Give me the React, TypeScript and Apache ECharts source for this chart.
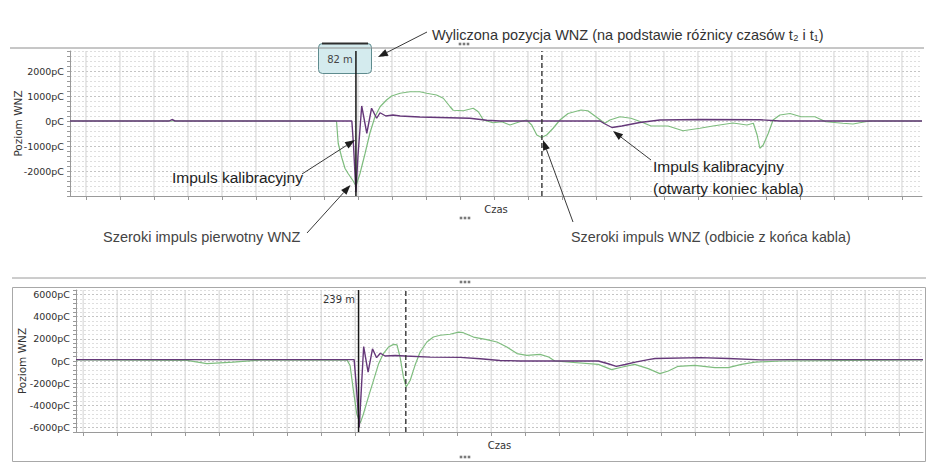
import React, { useEffect, useRef } from "react";
import * as echarts from "echarts";

// ---------- top chart (x: time divisions, y: pC) ----------
const topXMin = -0.47;
const topXMax = 24.59;
const topYMin = -3000;
const topYMax = 2800;
const topYStep = 200;
const topYLabels = [-2000, -1000, 0, 1000, 2000];
const topGridX = [0, 1, 2, 3, 4, 5, 6, 7, 8, 9, 10, 11, 12, 13, 14, 15, 16, 17, 18, 19, 20, 21, 22, 23, 24];
const topCursorSolid = 7.94;
const topCursorDashed = 13.41;
const topCursorText = "82 m";

const topPurpleX = [-0.47, 2.45, 2.53, 2.62, 7.82, 7.87, 7.94, 8.0, 8.11, 8.26, 8.4, 8.55, 8.65, 8.82, 9.03, 9.24, 9.82, 10.41, 11.29, 11.79, 12.18, 15.12, 15.24, 15.47, 15.76, 16.29, 16.88, 18.06, 19.82, 20.41, 24.59];
const topPurpleY = [0, 0, 60, 0, 0, -1000, -2850, -1400, 600, -490, 510, 110, 330, 200, 240, 200, 160, 140, 110, 30, 0, 0, -100, -260, -200, -60, 40, 60, 50, 0, 0];

const topGreenX = [-0.47, 7.32, 7.37, 7.42, 7.52, 7.62, 7.71, 7.86, 7.94, 8.06, 8.21, 8.35, 8.5, 8.65, 8.84, 8.99, 9.24, 9.53, 9.82, 10.02, 10.31, 10.51, 10.71, 10.8, 11.1, 11.39, 11.54, 11.69, 11.97, 12.23, 12.47, 12.76, 12.96, 13.11, 13.26, 13.4, 13.55, 13.74, 13.94, 14.18, 14.56, 14.76, 15.06, 15.26, 15.41, 15.71, 16.03, 16.32, 16.62, 17.12, 17.56, 18.06, 18.44, 19.03, 19.44, 19.63, 19.74, 19.82, 19.92, 20.07, 20.21, 20.41, 20.71, 21.03, 21.44, 21.76, 22.26, 22.56, 22.76, 23.06, 24.59];
const topGreenY = [0, 0, -30, -900, -1450, -1900, -2100, -2400, -2600, -2100, -1290, -490, 170, 570, 840, 1000, 1110, 1170, 1170, 1110, 1040, 910, 570, 430, 410, 510, 370, 40, -70, -30, -160, -30, 40, -160, -560, -660, -560, -290, 40, 300, 440, 410, 110, -90, 40, 170, 110, -30, -200, -200, -390, -290, -200, -80, -160, -90, -560, -1090, -960, -490, 40, 240, 300, 170, 170, -30, -90, -120, -70, 0, 0];

// ---------- bottom chart ----------
const botXMin = -0.21;
const botXMax = 24.7;
const botYMin = -6400;
const botYMax = 6400;
const botYStep = 400;
const botYLabels = [-6000, -4000, -2000, 0, 2000, 4000, 6000];
const botGridX = [0, 1, 2, 3, 4, 5, 6, 7, 8, 9, 10, 11, 12, 13, 14, 15, 16, 17, 18, 19, 20, 21, 22, 23, 24];
const botCursorSolid = 8.1;
const botCursorDashed = 9.49;
const botCursorText = "239 m";

const botPurpleX = [-0.21, 7.97, 8.04, 8.12, 8.25, 8.38, 8.51, 8.63, 8.74, 8.88, 9.18, 9.47, 10.21, 11.09, 11.68, 12.26, 12.85, 15.15, 15.44, 15.68, 15.94, 16.24, 16.62, 16.82, 18.15, 18.97, 19.94, 20.79, 24.7];
const botPurpleY = [120, 120, -2500, -6000, 1300, -1000, 1100, 300, 700, 450, 500, 450, 350, 330, 200, 50, 0, 0, -250, -480, -320, -100, 120, 220, 300, 220, 100, 120, 120];

const botGreenX = [-0.21, 3.05, 3.64, 4.41, 5.2, 7.76, 7.85, 7.95, 8.05, 8.15, 8.24, 8.39, 8.54, 8.69, 8.83, 8.98, 9.13, 9.23, 9.32, 9.42, 9.5, 9.62, 9.76, 9.91, 10.11, 10.3, 10.5, 10.79, 11.04, 11.18, 11.48, 11.87, 12.17, 12.46, 12.76, 13.05, 13.44, 13.69, 13.87, 15.15, 15.54, 15.83, 16.22, 16.62, 16.96, 17.21, 17.5, 17.99, 18.58, 18.97, 19.36, 19.76, 20.54, 24.7];
const botGreenY = [100, 50, -240, -100, 80, 100, -400, -2700, -4800, -5600, -4800, -3240, -1740, -240, 670, 1260, 1500, 1450, 360, -1440, -2340, -1740, -390, 810, 1710, 2160, 2320, 2410, 2610, 2550, 2160, 1930, 1710, 1260, 670, 510, 600, 360, 0, -300, -780, -560, -300, -690, -1140, -900, -480, -390, -600, -600, -300, -100, 0, 100];

// ---------- texts ----------
const titleText = "Wyliczona pozycja WNZ (na podstawie różnicy czasów t\u2082 i t\u2081)";
const calibText = "Impuls kalibracyjny";
const calibEndText = "Impuls kalibracyjny\n(otwarty koniec kabla)";
const primaryText = "Szeroki impuls pierwotny WNZ";
const reflectText = "Szeroki impuls WNZ (odbicie z końca kabla)";
const xName = "Czas";
const yName = "Poziom WNZ";

const FONT_A = '"Liberation Sans", Arial, sans-serif';
const FONT_T = '"DejaVu Sans", Verdana, sans-serif';

const GREEN = "#7fbd7f";
const PURPLE = "#653879";

function zip(xs: number[], ys: number[]) {
  return xs.map((x, i) => [x, ys[i]]);
}

function vLines(xs: number[], lo: number, hi: number) {
  const out: any[] = [];
  xs.forEach((x) => {
    out.push([x, lo], [x, hi], [x, "-"]);
  });
  return out;
}

function arrow(x1: number, y1: number, x2: number, y2: number) {
  const ang = Math.atan2(y2 - y1, x2 - x1);
  const L = 10;
  const W = 3.6;
  const bx = x2 - L * Math.cos(ang);
  const by = y2 - L * Math.sin(ang);
  const px = -Math.sin(ang) * W;
  const py = Math.cos(ang) * W;
  return [
    { type: "line", z: 10, silent: true, shape: { x1, y1, x2: bx, y2: by }, style: { stroke: "#3a3a3a", lineWidth: 1 } },
    { type: "polygon", z: 10, silent: true, shape: { points: [[x2, y2], [bx + px, by + py], [bx - px, by - py]] }, style: { fill: "#1e1e1e" } },
  ];
}

function grip(cx: number, cy: number) {
  return [-4, 0, 4].map((d) => ({
    type: "rect",
    z: 10,
    silent: true,
    shape: { x: cx + d - 1.3, y: cy - 1.3, width: 2.6, height: 2.6 },
    style: { fill: "#7a7a7a" },
  }));
}

function text(x: number, y: number, t: string, size: number, opts: any = {}) {
  return {
    type: "text",
    z: 10,
    silent: true,
    x,
    y,
    style: {
      text: t,
      fontSize: size,
      fontFamily: opts.family || FONT_A,
      fill: opts.color || "#2a2a2a",
      align: opts.align || "left",
      verticalAlign: "middle",
      lineHeight: opts.lineHeight,
    },
  };
}

function xAxisCfg(gridIndex: number, min: number, max: number, ticks: number[], nameGap: number) {
  return {
    gridIndex,
    type: "value",
    min,
    max,
    name: xName,
    nameLocation: "middle",
    nameGap,
    nameMoveOverlap: false,
    nameTextStyle: { fontFamily: FONT_T, fontSize: 10, color: "#333" },
    axisLine: { show: true, onZero: false, lineStyle: { color: "#9a9a9a", width: 1 } },
    axisTick: { show: true, customValues: ticks, length: 4, lineStyle: { color: "#9a9a9a" } },
    axisLabel: { show: false },
    splitLine: { show: false },
  };
}

function yAxisCfg(gridIndex: number, min: number, max: number, step: number, labels: number[], nameGap: number, colors: string[]) {
  return {
    gridIndex,
    type: "value",
    min,
    max,
    interval: step,
    name: yName,
    nameLocation: "middle",
    nameGap,
    nameMoveOverlap: false,
    nameTextStyle: { fontFamily: FONT_T, fontSize: 10.5, color: "#333" },
    axisLine: { show: true, onZero: false, lineStyle: { color: "#9a9a9a", width: 1 } },
    axisTick: { show: true, length: 3, lineStyle: { color: "#9a9a9a" } },
    axisLabel: {
      formatter: (v: number) => (labels.indexOf(v) >= 0 ? v + "pC" : ""),
      fontFamily: FONT_T,
      fontSize: 9.5,
      color: "#2e2e2e",
      margin: 6,
    },
    splitLine: { show: true, lineStyle: { type: [2, 2], color: colors, width: 1 } },
  };
}

function gridSeries(xi: number, xs: number[], lo: number, hi: number) {
  return {
    type: "line",
    xAxisIndex: xi,
    yAxisIndex: xi,
    data: vLines(xs, lo, hi),
    symbol: "none",
    silent: true,
    z: 1,
    lineStyle: { color: "#d2d2d2", width: 1 },
  };
}

function cursorSeries(xi: number, x: number, lo: number, hi: number, dashed: boolean) {
  return {
    type: "line",
    xAxisIndex: xi,
    yAxisIndex: xi,
    data: [[x, lo], [x, hi]],
    symbol: "none",
    silent: true,
    z: 6,
    lineStyle: { color: dashed ? "#333" : "#161616", width: dashed ? 1.4 : 1.5, type: dashed ? [5, 3] : "solid" },
  };
}

function dataSeries(xi: number, xs: number[], ys: number[], color: string, width: number, z: number) {
  return {
    type: "line",
    xAxisIndex: xi,
    yAxisIndex: xi,
    data: zip(xs, ys),
    symbol: "none",
    silent: true,
    z,
    lineStyle: { color, width },
  };
}

const option: any = {
  animation: false,
  backgroundColor: "#ffffff",
  grid: [
    { left: 70, top: 51, width: 852, height: 145 },
    { left: 76, top: 290, width: 847, height: 142 },
  ],
  xAxis: [
    xAxisCfg(0, topXMin, topXMax, topGridX, 8),
    xAxisCfg(1, botXMin, botXMax, botGridX, 8),
  ],
  yAxis: [
    yAxisCfg(0, topYMin, topYMax, topYStep, topYLabels, 47, ["#c4c4c4", "#dedede", "#dedede", "#dedede", "#dedede"]),
    yAxisCfg(1, botYMin, botYMax, botYStep, botYLabels, 49, ["#dedede", "#c4c4c4", "#dedede", "#dedede", "#dedede"]),
  ],
  series: [
    gridSeries(0, topGridX, topYMin, topYMax),
    dataSeries(0, topGreenX, topGreenY, GREEN, 1.2, 3),
    dataSeries(0, topPurpleX, topPurpleY, PURPLE, 1.4, 4),
    cursorSeries(0, topCursorSolid, topYMin, topYMax, false),
    cursorSeries(0, topCursorDashed, topYMin, topYMax, true),
    gridSeries(1, botGridX, botYMin, botYMax),
    dataSeries(1, botGreenX, botGreenY, GREEN, 1.2, 3),
    dataSeries(1, botPurpleX, botPurpleY, PURPLE, 1.4, 4),
    cursorSeries(1, botCursorSolid, botYMin, botYMax, false),
    cursorSeries(1, botCursorDashed, botYMin, botYMax, true),
  ],
  graphic: {
    elements: [
      { type: "line", z: 10, silent: true, shape: { x1: 10, y1: 48, x2: 924, y2: 48 }, style: { stroke: "#8e8e8e", lineWidth: 1 } },
      { type: "line", z: 10, silent: true, shape: { x1: 12, y1: 278, x2: 926, y2: 278 }, style: { stroke: "#9a9a9a", lineWidth: 1 } },
      { type: "rect", z: 10, silent: true, shape: { x: 12.5, y: 287.5, width: 913, height: 174 }, style: { fill: "none", stroke: "#a8a8a8", lineWidth: 1 } },
      ...grip(464, 44),
      ...grip(465, 218),
      ...grip(465, 282),
      ...grip(465, 457),
      // cursor box
      { type: "rect", z: 5, silent: true, shape: { x: 318.5, y: 43.5, width: 53, height: 30, r: 4 }, style: { fill: "#d4ebee", stroke: "#5e8b8e", lineWidth: 1 } },
      { type: "line", z: 5, silent: true, shape: { x1: 322, y1: 43.5, x2: 368, y2: 43.5 }, style: { stroke: "#2e2e2e", lineWidth: 2 } },
      text(340, 59, topCursorText, 10, { family: FONT_T, color: "#444", align: "center" }),
      text(355, 299, botCursorText, 10, { family: FONT_T, color: "#333", align: "right" }),
      // annotations
      text(432, 35, titleText, 14.5, { color: "#333" }),
      text(172, 177, calibText, 15.5, { color: "#1e1e1e" }),
      text(653, 177.5, calibEndText, 15.5, { color: "#1e1e1e", lineHeight: 21.6 }),
      text(103, 237, primaryText, 14.5, { color: "#444" }),
      text(571, 237, reflectText, 14.3, { color: "#444" }),
      ...arrow(427, 32, 378, 57),
      ...arrow(302, 174, 355, 140),
      ...arrow(307, 233, 350.5, 185),
      ...arrow(573, 222, 543, 140),
      ...arrow(651, 160, 613, 131),
    ],
  },
};

export default function App() {
  const ref = useRef<HTMLDivElement>(null);
  useEffect(() => {
    const chart = echarts.init(ref.current as HTMLDivElement, null, { renderer: "svg" });
    chart.setOption(option);
    return () => chart.dispose();
  }, []);
  return (
    <div
      ref={ref}
      style={{ position: "fixed", left: 0, top: 0, width: 938, height: 472, background: "#fff" }}
    />
  );
}
